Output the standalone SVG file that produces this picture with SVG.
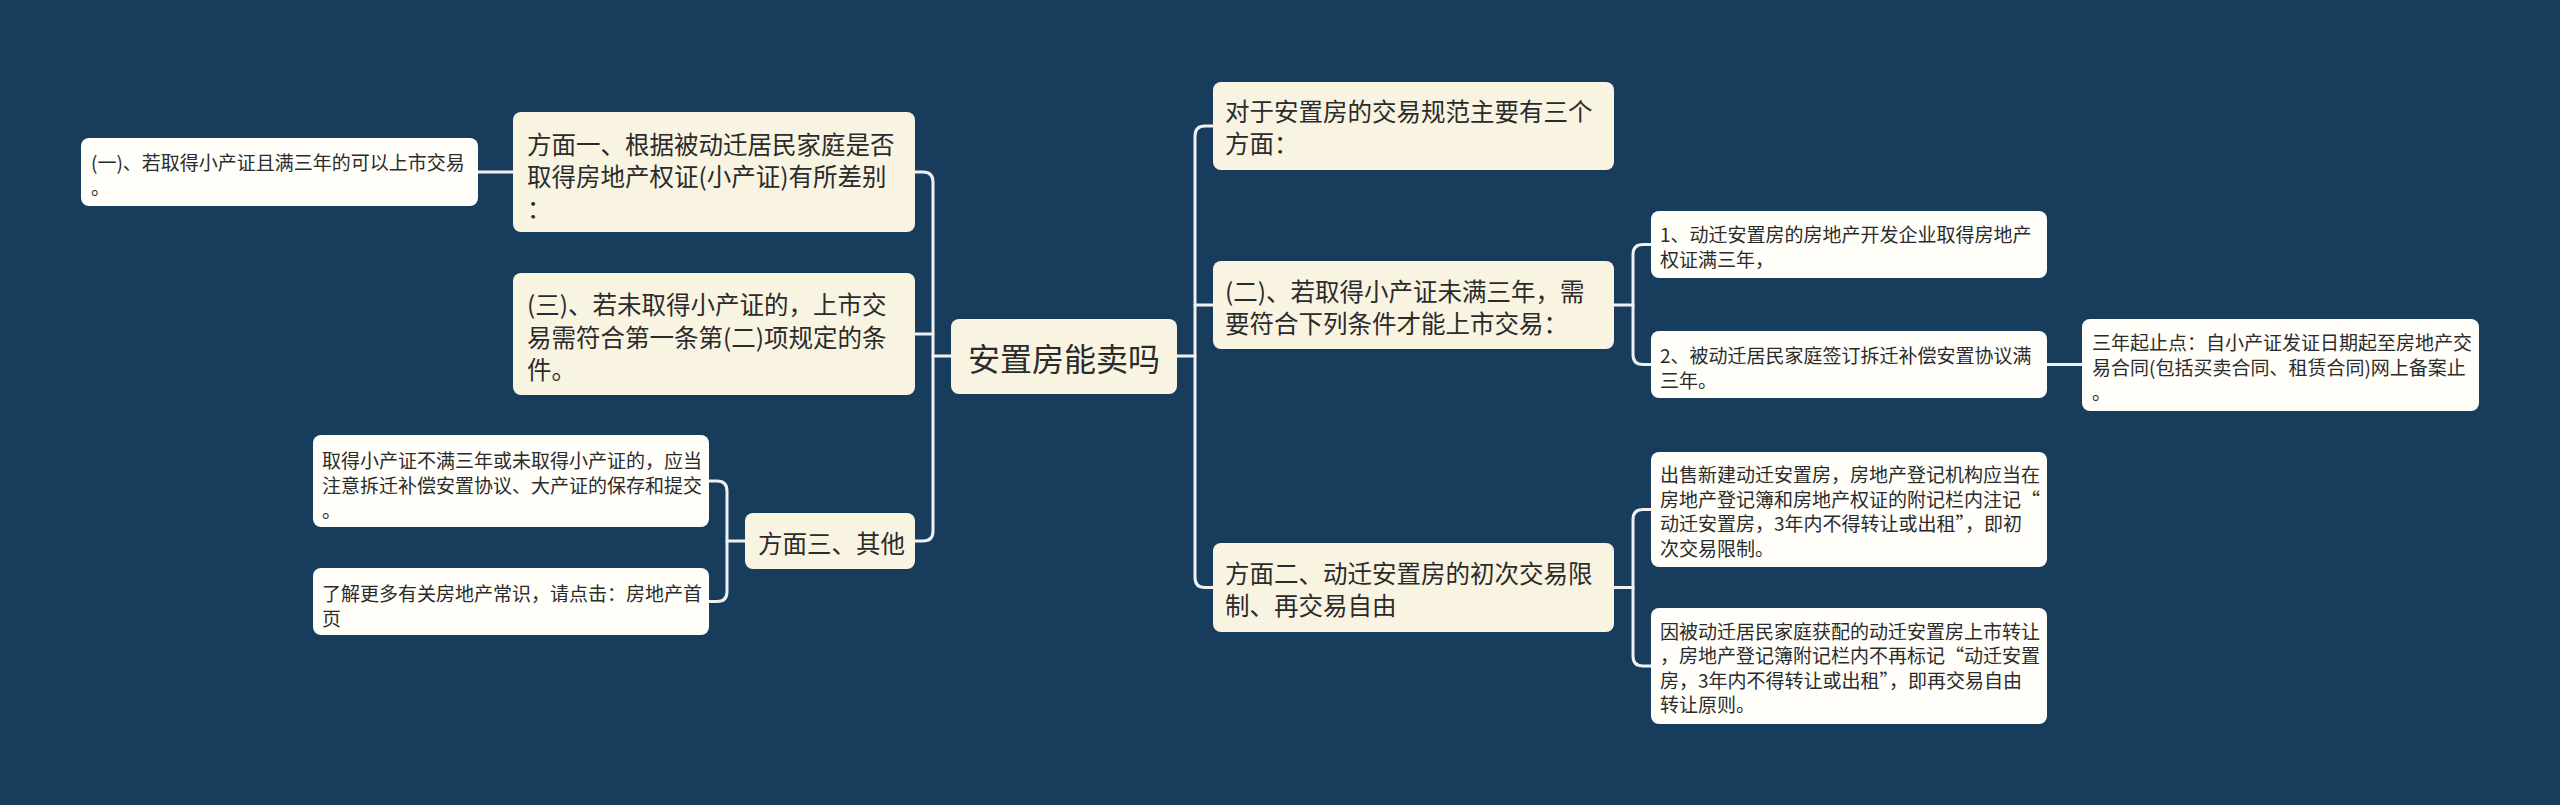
<svg xmlns="http://www.w3.org/2000/svg" width="2560" height="805" viewBox="0 0 2560 805">
<style>
.bg{fill:#183d5c}
.main{fill:#f9f4e2}
.leaf{fill:#fffef8}
.t{font-family:"Noto Sans CJK SC","Noto Sans",sans-serif;fill:#2b2b2b;dominant-baseline:central}
.r{font-size:32px}
.m{font-size:24.5px}
.s{font-size:19px}
.c{fill:none;stroke:#eef1f3;stroke-width:3;stroke-linecap:round}
</style>
<rect class="bg" x="0" y="0" width="2560" height="805"/>
<g id="connectors">
<path class="c" d="M951,356 H933"/>
<path class="c" d="M915,172 H923 Q933,172 933,182 V531 Q933,541 923,541 H915"/>
<path class="c" d="M933,334 H915"/>
<path class="c" d="M478,172 H513"/>
<path class="c" d="M745,541 H727"/>
<path class="c" d="M709,481 H717 Q727,481 727,491 V591.5 Q727,601.5 717,601.5 H709"/>
<path class="c" d="M1177,356 H1195"/>
<path class="c" d="M1213,126 H1205 Q1195,126 1195,136 V577.5 Q1195,587.5 1205,587.5 H1213"/>
<path class="c" d="M1195,305 H1213"/>
<path class="c" d="M1614,305 H1633"/>
<path class="c" d="M1651,244.5 H1643 Q1633,244.5 1633,254.5 V354.5 Q1633,364.5 1643,364.5 H1651"/>
<path class="c" d="M2047,364.5 H2082"/>
<path class="c" d="M1614,587.5 H1633"/>
<path class="c" d="M1651,509.5 H1643 Q1633,509.5 1633,519.5 V656 Q1633,666 1643,666 H1651"/>
</g>
<g id="root">
<rect class="main" x="951" y="319" width="226" height="75" rx="8"/>
<text class="t r" x="1064" y="357" text-anchor="middle">安置房能卖吗</text>
</g>
<g id="n-aspect1">
<rect class="main" x="513" y="112" width="402" height="120" rx="8"/>
<text class="t m" x="527" y="143">方面一、根据被动迁居民家庭是否</text>
<text class="t m" x="527" y="175">取得房地产权证(小产证)有所差别</text>
<text class="t m" x="527" y="207">：</text>
</g>
<g id="n-one">
<rect class="leaf" x="81" y="138" width="397" height="68" rx="8"/>
<text class="t s" x="91" y="161">(一)、若取得小产证且满三年的可以上市交易</text>
<text class="t s" x="91" y="186">。</text>
</g>
<g id="n-three">
<rect class="main" x="513" y="273" width="402" height="122" rx="8"/>
<text class="t m" x="527" y="303">(三)、若未取得小产证的，上市交</text>
<text class="t m" x="527" y="336">易需符合第一条第(二)项规定的条</text>
<text class="t m" x="527" y="368">件。</text>
</g>
<g id="n-aspect3">
<rect class="main" x="745" y="513" width="170" height="56" rx="8"/>
<text class="t m" x="758" y="542">方面三、其他</text>
</g>
<g id="n-note">
<rect class="leaf" x="313" y="435" width="396" height="92" rx="8"/>
<text class="t s" x="322" y="459">取得小产证不满三年或未取得小产证的，应当</text>
<text class="t s" x="322" y="484">注意拆迁补偿安置协议、大产证的保存和提交</text>
<text class="t s" x="322" y="509">。</text>
</g>
<g id="n-more">
<rect class="leaf" x="313" y="568" width="396" height="67" rx="8"/>
<text class="t s" x="322" y="592">了解更多有关房地产常识，请点击：房地产首</text>
<text class="t s" x="322" y="617">页</text>
</g>
<g id="n-intro">
<rect class="main" x="1213" y="82" width="401" height="88" rx="8"/>
<text class="t m" x="1225" y="110">对于安置房的交易规范主要有三个</text>
<text class="t m" x="1225" y="142">方面：</text>
</g>
<g id="n-two">
<rect class="main" x="1213" y="261" width="401" height="88" rx="8"/>
<text class="t m" x="1225" y="290">(二)、若取得小产证未满三年，需</text>
<text class="t m" x="1225" y="322">要符合下列条件才能上市交易：</text>
</g>
<g id="n-aspect2">
<rect class="main" x="1213" y="543" width="401" height="89" rx="8"/>
<text class="t m" x="1225" y="572">方面二、动迁安置房的初次交易限</text>
<text class="t m" x="1225" y="604">制、再交易自由</text>
</g>
<g id="n-c1">
<rect class="leaf" x="1651" y="211" width="396" height="67" rx="8"/>
<text class="t s" x="1660" y="233">1、动迁安置房的房地产开发企业取得房地产</text>
<text class="t s" x="1660" y="258">权证满三年，</text>
</g>
<g id="n-c2">
<rect class="leaf" x="1651" y="331" width="396" height="67" rx="8"/>
<text class="t s" x="1660" y="354">2、被动迁居民家庭签订拆迁补偿安置协议满</text>
<text class="t s" x="1660" y="379">三年。</text>
</g>
<g id="n-period">
<rect class="leaf" x="2082" y="319" width="397" height="92" rx="8"/>
<text class="t s" x="2092" y="341">三年起止点：自小产证发证日期起至房地产交</text>
<text class="t s" x="2092" y="366">易合同(包括买卖合同、租赁合同)网上备案止</text>
<text class="t s" x="2092" y="391">。</text>
</g>
<g id="n-sale">
<rect class="leaf" x="1651" y="452" width="396" height="115" rx="8"/>
<text class="t s" x="1660" y="473">出售新建动迁安置房，房地产登记机构应当在</text>
<text class="t s" x="1660" y="498">房地产登记簿和房地产权证的附记栏内注记“</text>
<text class="t s" x="1660" y="522">动迁安置房，3年内不得转让或出租”，即初</text>
<text class="t s" x="1660" y="547">次交易限制。</text>
</g>
<g id="n-resale">
<rect class="leaf" x="1651" y="608" width="396" height="116" rx="8"/>
<text class="t s" x="1660" y="630">因被动迁居民家庭获配的动迁安置房上市转让</text>
<text class="t s" x="1660" y="654.5">，房地产登记簿附记栏内不再标记“动迁安置</text>
<text class="t s" x="1660" y="679">房，3年内不得转让或出租”，即再交易自由</text>
<text class="t s" x="1660" y="703.5">转让原则。</text>
</g>
</svg>
